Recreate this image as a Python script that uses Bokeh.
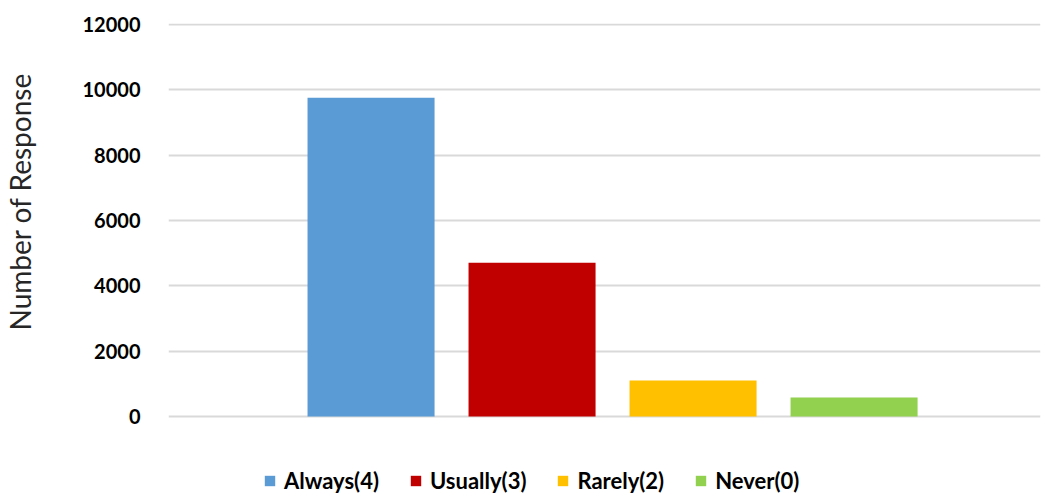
from bokeh.plotting import figure
from bokeh.models import ColumnDataSource, Legend, LegendItem, Range1d, FixedTicker, Title
from bokeh.embed import file_html
from bokeh.resources import INLINE

categories = ["Always(4)", "Usually(3)", "Rarely(2)", "Never(0)"]
values = [9760, 4710, 1100, 580]
colors = ["#5B9BD5", "#C00000", "#FFC000", "#92D050"]
positions = [1, 2, 3, 4]
y_ticks = [0, 2000, 4000, 6000, 8000, 10000, 12000]

SHIFT = 50  # part of the left border that lies off-page

p = figure(width=1042 + SHIFT, height=494, output_backend="svg", toolbar_location=None,
           x_range=Range1d(-0.258, 5.158), y_range=Range1d(-2388, 12031),
           min_border_left=168 + SHIFT, min_border_right=2, min_border_top=23, min_border_bottom=0)
p.styles = {"margin-left": f"-{SHIFT}px"}
p.outline_line_color = None
p.background_fill_color = "white"
p.border_fill_color = "white"

items = []
for c, v, col, x in zip(categories, values, colors, positions):
    src = ColumnDataSource(dict(x=[x], top=[v]))
    r = p.vbar(x="x", top="top", width=0.789, source=src, fill_color=col, line_color=None)
    items.append(LegendItem(label=c, renderers=[r]))

p.xaxis.visible = False
p.xgrid.visible = False
p.ygrid.grid_line_color = "#d9d9d9"
p.ygrid.grid_line_width = 2
p.yaxis.ticker = FixedTicker(ticks=y_ticks)
p.yaxis.axis_line_color = None
p.yaxis.major_tick_line_color = None
p.yaxis.minor_tick_line_color = None
p.yaxis.major_label_text_font = "Lato"
p.yaxis.major_label_text_font_style = "bold"
p.yaxis.major_label_text_font_size = "20px"
p.yaxis.major_label_text_color = "#000000"
p.yaxis.major_label_standoff = 22

ytitle = Title(text="Number of Response", align="left", offset=164,
               text_font="Lato", text_font_style="normal", text_font_size="28px",
               text_color="#262626", standoff=86)
p.add_layout(ytitle, "left")

legend = Legend(items=items, orientation="horizontal", location=(95, 0))
legend.label_text_font = "Lato"
legend.label_text_font_style = "bold"
legend.label_text_font_size = "22px"
legend.label_text_color = "#000000"
legend.glyph_width = 13
legend.glyph_height = 13
legend.label_standoff = 8
legend.spacing = 30
legend.border_line_color = None
legend.background_fill_alpha = 0
legend.padding = 4
legend.margin = 0
p.add_layout(legend, "center")

open("out.html", "w").write(file_html(p, INLINE))
